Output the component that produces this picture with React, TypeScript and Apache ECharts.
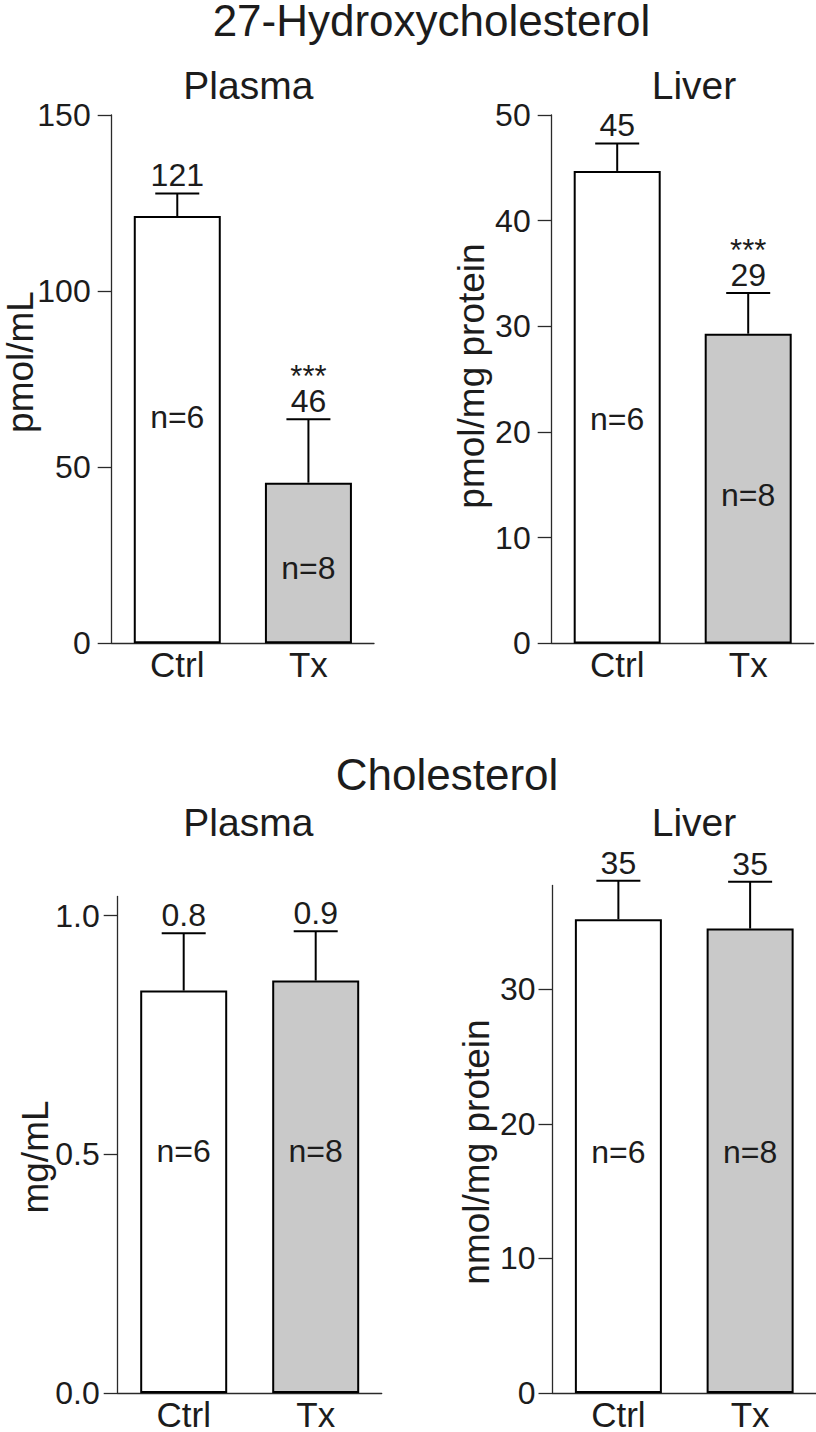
import React, { useEffect, useRef } from "react";
import * as echarts from "echarts";

const FONT = "'Liberation Sans', Arial, Helvetica, sans-serif";
const TEXT = "#1c1c1c";
const AXIS = "#2a2a2a";

// ---------- data ----------
const categories = ["Ctrl", "Tx"];
const nLabels = ["n=6", "n=8"];

// 27-Hydroxycholesterol – plasma (pmol/mL)
const ohcPlasmaMean = [121.3, 45.6];
const ohcPlasmaSem = [6.4, 18.0];
const ohcPlasmaLabels = ["121", "46"];
const ohcPlasmaSig = ["", "***"];
const ohcPlasmaNAt = [64.3, 21.3];

// 27-Hydroxycholesterol – liver (pmol/mg protein)
const ohcLiverMean = [44.7, 29.3];
const ohcLiverSem = [2.6, 3.85];
const ohcLiverLabels = ["45", "29"];
const ohcLiverSig = ["", "***"];
const ohcLiverNAt = [21.2, 14.0];

// Cholesterol – plasma (mg/mL)
const cholPlasmaMean = [0.843, 0.864];
const cholPlasmaSem = [0.12, 0.103];
const cholPlasmaLabels = ["0.8", "0.9"];
const cholPlasmaSig = ["", ""];
const cholPlasmaNAt = [0.506, 0.506];

// Cholesterol – liver (nmol/mg protein)
const cholLiverMean = [35.2, 34.5];
const cholLiverSem = [2.85, 3.47];
const cholLiverLabels = ["35", "35"];
const cholLiverSig = ["", ""];
const cholLiverNAt = [17.9, 17.9];

// axis tick values
const ohcPlasmaTicks = [0, 50, 100, 150];
const ohcLiverTicks = [0, 10, 20, 30, 40, 50];
const cholPlasmaTicks = [0, 0.5, 1.0];
const cholLiverTicks = [0, 10, 20, 30];

const barFills = ["#ffffff", "#c9c9c9"];

type Panel = {
  grid: { left: number; top: number; width: number; height: number };
  max: number;
  ticks: number[];
  decimals: number;
  labelMargin: number;
  mean: number[];
  sem: number[];
  labels: string[];
  sig: string[];
  nAt: number[];
};

const panels: Panel[] = [
  {
    grid: { left: 111.7, top: 114.9, width: 262.3, height: 528.4 },
    max: 150, ticks: ohcPlasmaTicks, decimals: 0, labelMargin: 21,
    mean: ohcPlasmaMean, sem: ohcPlasmaSem, labels: ohcPlasmaLabels, sig: ohcPlasmaSig, nAt: ohcPlasmaNAt,
  },
  {
    grid: { left: 551.7, top: 114.9, width: 262, height: 528.5 },
    max: 50, ticks: ohcLiverTicks, decimals: 0, labelMargin: 21,
    mean: ohcLiverMean, sem: ohcLiverSem, labels: ohcLiverLabels, sig: ohcLiverSig, nAt: ohcLiverNAt,
  },
  {
    grid: { left: 117.7, top: 896.5, width: 264, height: 498.5 },
    max: 1.04, ticks: cholPlasmaTicks, decimals: 1, labelMargin: 18,
    mean: cholPlasmaMean, sem: cholPlasmaSem, labels: cholPlasmaLabels, sig: cholPlasmaSig, nAt: cholPlasmaNAt,
  },
  {
    grid: { left: 552.5, top: 885.5, width: 263.5, height: 511 },
    max: 37.7, ticks: cholLiverTicks, decimals: 0, labelMargin: 17,
    mean: cholLiverMean, sem: cholLiverSem, labels: cholLiverLabels, sig: cholLiverSig, nAt: cholLiverNAt,
  },
];

function textEl(text: string, x: number, y: number, size: number, rotation = 0) {
  return {
    type: "text",
    x,
    y,
    rotation,
    style: {
      text,
      fontSize: size,
      fontFamily: FONT,
      fill: TEXT,
      align: "center",
      verticalAlign: "middle",
    },
  };
}

export default function App() {
  const ref = useRef<HTMLDivElement>(null);

  useEffect(() => {
    document.body.style.margin = "0";
    if (!ref.current) return;
    const chart = echarts.init(ref.current, undefined, { renderer: "svg" });

    const grids: any[] = [];
    const xAxes: any[] = [];
    const yAxes: any[] = [];
    const series: any[] = [];

    panels.forEach((p, i) => {
      grids.push({ ...p.grid, containLabel: false });
      xAxes.push({
        type: "category",
        gridIndex: i,
        data: categories,
        axisLine: { show: true, lineStyle: { color: AXIS, width: 1.3 } },
        axisTick: { show: false },
        axisLabel: { fontSize: 35, fontFamily: FONT, color: TEXT, margin: 4 },
        splitLine: { show: false },
      });
      yAxes.push({
        type: "value",
        gridIndex: i,
        min: 0,
        max: p.max,
        splitLine: { show: false },
        axisLine: { show: true, lineStyle: { color: AXIS, width: 1.3 } },
        axisTick: {
          show: true,
          length: 14,
          lineStyle: { color: AXIS, width: 1.3 },
          customValues: p.ticks,
        },
        axisLabel: {
          fontSize: 32,
          fontFamily: FONT,
          color: TEXT,
          margin: p.labelMargin,
          customValues: p.ticks,
          formatter: (v: number) => v.toFixed(p.decimals),
        },
      });
      series.push({
        type: "bar",
        xAxisIndex: i,
        yAxisIndex: i,
        barWidth: 87,
        data: p.mean.map((v, k) => ({
          value: v,
          itemStyle: { color: barFills[k], borderColor: "#000", borderWidth: 2 },
        })),
        z: 2,
      });
      series.push({
        type: "custom",
        xAxisIndex: i,
        yAxisIndex: i,
        z: 3,
        data: p.mean.map((v, k) => [k, v, p.sem[k], p.nAt[k]]),
        renderItem: (params: any, api: any) => {
          const k = params.dataIndex;
          const idx = api.value(0);
          const mean = api.value(1);
          const sem = api.value(2);
          const nAt = api.value(3);
          const base = api.coord([idx, mean]);
          const top = api.coord([idx, mean + sem]);
          const nPt = api.coord([idx, nAt]);
          const x = base[0];
          const children: any[] = [
            {
              type: "line",
              shape: { x1: x, y1: base[1], x2: x, y2: top[1] },
              style: { stroke: "#000", lineWidth: 2 },
            },
            {
              type: "line",
              shape: { x1: x - 22, y1: top[1], x2: x + 22, y2: top[1] },
              style: { stroke: "#000", lineWidth: 2 },
            },
            textEl(p.labels[k], x, top[1] - 18, 32),
            textEl(nLabels[k], x, nPt[1], 32),
          ];
          if (p.sig[k]) children.push(textEl(p.sig[k], x, top[1] - 43, 31));
          return { type: "group", children };
        },
      });
    });

    chart.setOption({
      animation: false,
      backgroundColor: "#ffffff",
      grid: grids,
      xAxis: xAxes,
      yAxis: yAxes,
      series,
      graphic: [
        textEl("27-Hydroxycholesterol", 431.5, 20, 44),
        textEl("Plasma", 248.3, 85, 39),
        textEl("Liver", 694, 85, 39),
        textEl("Cholesterol", 447, 774, 44),
        textEl("Plasma", 248.3, 822, 39),
        textEl("Liver", 694, 822, 39),
        textEl("pmol/mL", 20, 362, 37, Math.PI / 2),
        textEl("pmol/mg protein", 471.5, 376, 37, Math.PI / 2),
        textEl("mg/mL", 35, 1157, 37, Math.PI / 2),
        textEl("nmol/mg protein", 476.7, 1152, 37, Math.PI / 2),
      ],
    });

    return () => chart.dispose();
  }, []);

  return <div ref={ref} style={{ width: 816, height: 1432 }} />;
}
